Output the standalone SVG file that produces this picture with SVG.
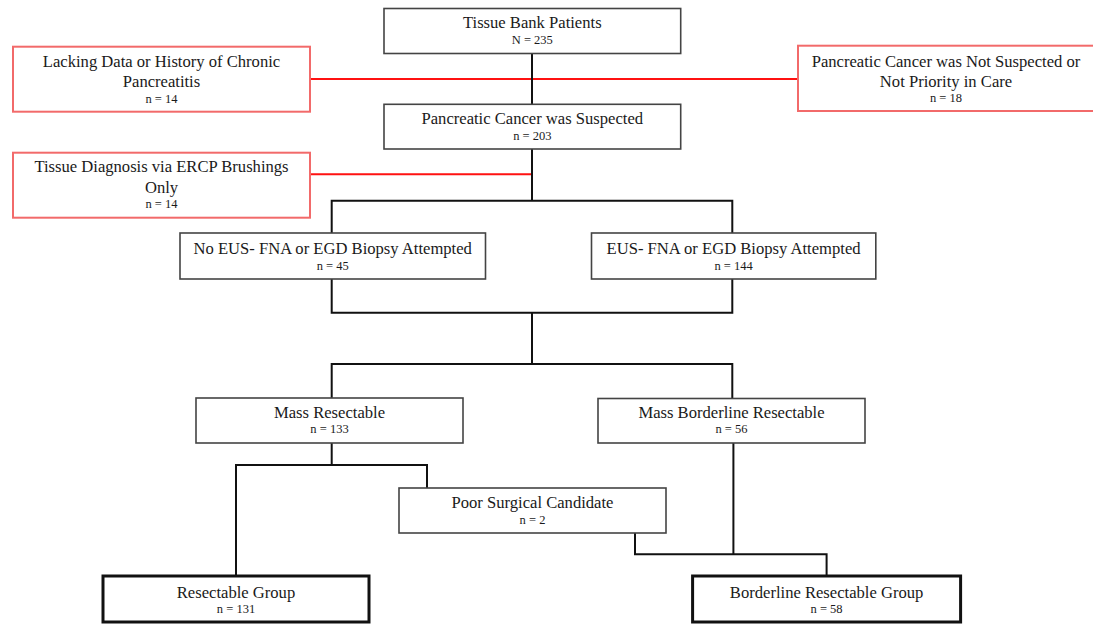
<svg xmlns="http://www.w3.org/2000/svg" width="1093" height="631" viewBox="0 0 1093 631">
<style>
.box{fill:#fff;stroke:#444;stroke-width:1.6}
.red{fill:#fff;stroke:#f26a6a;stroke-width:2}
.final{fill:#fff;stroke:#111;stroke-width:3}
.t{font-family:"Liberation Serif","Times New Roman",serif;font-size:16.6px;fill:#1a1a1a;text-anchor:middle}
.n{font-family:"Liberation Serif","Times New Roman",serif;font-size:12.5px;fill:#1a1a1a;text-anchor:middle}
.c{fill:none;stroke:#111;stroke-width:2}
.rc{fill:none;stroke:#f11;stroke-width:2}
</style>
<rect width="1093" height="631" fill="#fff"/>
<g id="connectors">
<path class="rc" d="M310 79H798"/>
<path class="rc" d="M310 174.3H532"/>
<path class="c" d="M532 53.3V104.3"/>
<path class="c" d="M532 149V200.7"/>
<path class="c" d="M331.7 233V200.7H732.3V233"/>
<path class="c" d="M331.7 279V312.7H732.3V279"/>
<path class="c" d="M532 312.7V364"/>
<path class="c" d="M331.7 398V364H732.3V398"/>
<path class="c" d="M331.7 443V465"/>
<path class="c" d="M236 576V465H427V488"/>
<path class="c" d="M635 533V554.3H826.6V576"/>
<path class="c" d="M733.4 443V554.3"/>
</g>
<g id="tissue-bank">
<rect class="box" x="384" y="8.5" width="296.7" height="45"/>
<text class="t" x="532.3" y="28.3">Tissue Bank Patients</text>
<text class="n" x="532.3" y="44.3">N = 235</text>
</g>
<g id="lacking-data">
<rect class="red" x="13" y="46.7" width="297" height="65"/>
<text class="t" x="161.5" y="66.7">Lacking Data or History of Chronic</text>
<text class="t" x="161.5" y="87.3">Pancreatitis</text>
<text class="n" x="161.5" y="103.3">n = 14</text>
</g>
<g id="not-suspected">
<rect class="red" x="798" y="45.7" width="297" height="65.3"/>
<text class="t" x="946" y="66.7">Pancreatic Cancer was Not Suspected or</text>
<text class="t" x="946" y="86.7">Not Priority in Care</text>
<text class="n" x="946" y="101.7">n = 18</text>
</g>
<g id="suspected">
<rect class="box" x="384" y="104.3" width="296.7" height="44.7"/>
<text class="t" x="532.3" y="124.3">Pancreatic Cancer was Suspected</text>
<text class="n" x="532.3" y="140">n = 203</text>
</g>
<g id="ercp">
<rect class="red" x="13" y="152.7" width="297" height="65"/>
<text class="t" x="161.5" y="172.3">Tissue Diagnosis via ERCP Brushings</text>
<text class="t" x="161.5" y="193.3">Only</text>
<text class="n" x="161.5" y="208.3">n = 14</text>
</g>
<g id="no-eus">
<rect class="box" x="180" y="233" width="305.5" height="46"/>
<text class="t" x="332.7" y="254">No EUS- FNA or EGD Biopsy Attempted</text>
<text class="n" x="332.7" y="270">n = 45</text>
</g>
<g id="eus">
<rect class="box" x="591.5" y="233" width="284.3" height="46"/>
<text class="t" x="733.6" y="254">EUS- FNA or EGD Biopsy Attempted</text>
<text class="n" x="733.6" y="270">n = 144</text>
</g>
<g id="mass-resectable">
<rect class="box" x="196" y="398" width="267" height="45"/>
<text class="t" x="329.5" y="418.3">Mass Resectable</text>
<text class="n" x="329.5" y="433.3">n = 133</text>
</g>
<g id="mass-borderline">
<rect class="box" x="598" y="398.5" width="267" height="44.5"/>
<text class="t" x="731.5" y="418.3">Mass Borderline Resectable</text>
<text class="n" x="731.5" y="433.3">n = 56</text>
</g>
<g id="poor-candidate">
<rect class="box" x="399" y="488" width="267" height="45"/>
<text class="t" x="532.5" y="508.3">Poor Surgical Candidate</text>
<text class="n" x="532.5" y="524">n = 2</text>
</g>
<g id="resectable-group">
<rect class="final" x="103" y="576" width="266" height="46"/>
<text class="t" x="236" y="597.7">Resectable Group</text>
<text class="n" x="236" y="613.3">n = 131</text>
</g>
<g id="borderline-group">
<rect class="final" x="692.6" y="576" width="268" height="46"/>
<text class="t" x="826.6" y="597.7">Borderline Resectable Group</text>
<text class="n" x="826.6" y="613.3">n = 58</text>
</g>
</svg>
